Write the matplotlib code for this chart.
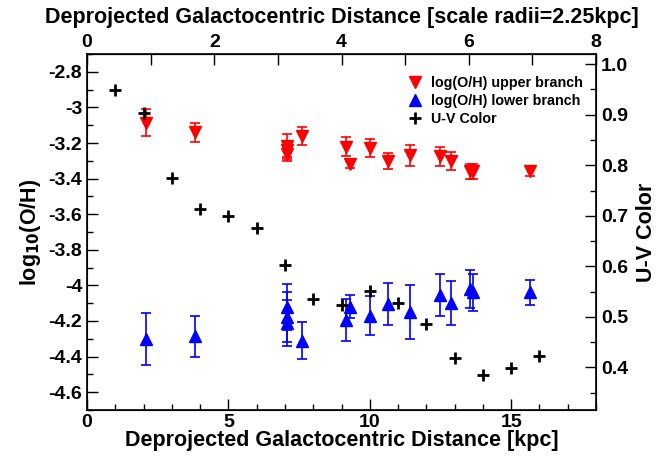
import numpy as np
import matplotlib
matplotlib.use("Agg")
import matplotlib.pyplot as plt
from matplotlib.ticker import MultipleLocator, FixedLocator, FormatStrFormatter
from matplotlib.lines import Line2D

plt.rcParams['font.family'] = ['Liberation Sans', 'DejaVu Sans']
plt.rcParams['font.weight'] = 'bold'

# upper branch log(O/H)
up_r = [2.08, 3.83, 7.06, 7.06, 7.06, 7.59, 9.14, 9.29, 10.02, 10.66, 11.41, 12.48, 12.86, 13.53, 13.65, 15.66]
up_oh = [-3.085, -3.14, -3.215, -3.24, -3.26, -3.16, -3.22, -3.32, -3.23, -3.30, -3.27, -3.275, -3.30, -3.36, -3.36, -3.36]
up_err = [0.075, 0.055, 0.065, 0.05, 0.04, 0.05, 0.055, 0.02, 0.05, 0.045, 0.06, 0.055, 0.05, 0.04, 0.04, 0.025]

# lower branch log(O/H)
lo_r = [2.08, 3.83, 7.06, 7.06, 7.06, 7.61, 9.14, 9.29, 10.02, 10.66, 11.41, 12.48, 12.86, 13.53, 13.65, 15.66]
lo_oh = [-4.30, -4.285, -4.12, -4.18, -4.21, -4.31, -4.195, -4.12, -4.17, -4.105, -4.15, -4.055, -4.10, -4.02, -4.04, -4.04]
lo_err = [0.145, 0.115, 0.13, 0.14, 0.13, 0.105, 0.12, 0.065, 0.11, 0.12, 0.15, 0.12, 0.125, 0.105, 0.105, 0.07]

# U-V colour
uv_r = [1, 2, 3, 4, 5, 6, 7, 8, 9, 10, 11, 12, 13, 14, 15, 16]
uv = [0.949, 0.903, 0.775, 0.714, 0.699, 0.675, 0.602, 0.536, 0.523, 0.551, 0.527, 0.485, 0.418, 0.385, 0.399, 0.422]

top_major = [0, 2, 4, 6, 8]
top_minor = [1, 3, 5, 7]

fig = plt.figure(figsize=(6.6, 4.58), dpi=100)
ax = fig.add_axes([0.132, 0.105, 0.771, 0.777])

ax.errorbar(up_r, up_oh, yerr=up_err, fmt='v', color='red', ms=9, capsize=3.5, elinewidth=1.2, capthick=1.2)
ax.errorbar(lo_r, lo_oh, yerr=lo_err, fmt='^', color='blue', ms=9, capsize=3.5, elinewidth=1.2, capthick=1.2)

ax.set_xlim(0, 18)
ax.set_ylim(-4.7, -2.7)
ax.xaxis.set_major_locator(MultipleLocator(5))
ax.xaxis.set_minor_locator(MultipleLocator(1))
ax.yaxis.set_major_locator(MultipleLocator(0.2))
ax.yaxis.set_minor_locator(MultipleLocator(0.1))
ax.yaxis.set_major_formatter(plt.FuncFormatter(lambda v, p: ('%.1f' % v).rstrip('0').rstrip('.') if abs(v - round(v)) > 1e-6 else '%d' % round(v)))
ax.tick_params(which='both', direction='in', top=False, right=False, labelsize=14, width=1)
ax.tick_params(which='major', length=8)
ax.tick_params(which='minor', length=4)
ax.tick_params(axis='x', pad=3)
for s in ax.spines.values():
    s.set_linewidth(1.2)
ax.set_xlabel('Deprojected Galactocentric Distance [kpc]', fontsize=15.5, fontweight='bold', labelpad=-1)
ax.set_ylabel(r'log$_{\mathbf{10}}$(O/H)', fontsize=15.5, fontweight='bold', labelpad=4)

ax2 = ax.twinx()
ax2.plot(uv_r, uv, '+', color='black', ms=8, mew=2)
ax2.set_ylim(0.316, 1.02)
ax2.yaxis.set_major_locator(MultipleLocator(0.1))
ax2.yaxis.set_minor_locator(MultipleLocator(0.05))
ax2.yaxis.set_major_formatter(FormatStrFormatter('%.1f'))
ax2.tick_params(which='both', direction='in', labelsize=14, width=1)
ax2.tick_params(which='major', length=8)
ax2.tick_params(which='minor', length=4)
ax2.set_ylabel('U-V Color', fontsize=15.5, fontweight='bold', labelpad=6)

sec = ax.secondary_xaxis('top', functions=(lambda x: x / 2.25, lambda x: x * 2.25))
sec.xaxis.set_major_locator(FixedLocator(top_major))
sec.xaxis.set_minor_locator(FixedLocator(top_minor))
sec.tick_params(which='both', direction='in', labelsize=14, length=8, width=1, pad=2)
sec.set_xlabel('Deprojected Galactocentric Distance [scale radii=2.25kpc]', fontsize=15.5, fontweight='bold', labelpad=8)

handles = [Line2D([], [], marker='v', ls='', color='red', ms=9),
           Line2D([], [], marker='^', ls='', color='blue', ms=9),
           Line2D([], [], marker='+', ls='', color='black', ms=8, mew=2)]
labels = ['log(O/H) upper branch', 'log(O/H) lower branch', 'U-V Color']
ax2.legend(handles, labels, loc='upper right', bbox_to_anchor=(1.0, 0.975), frameon=False,
           prop={'size': 10.3, 'weight': 'bold'}, handletextpad=0.4, labelspacing=0.3, handlelength=1.5)

fig.savefig('out.png', dpi=100)
